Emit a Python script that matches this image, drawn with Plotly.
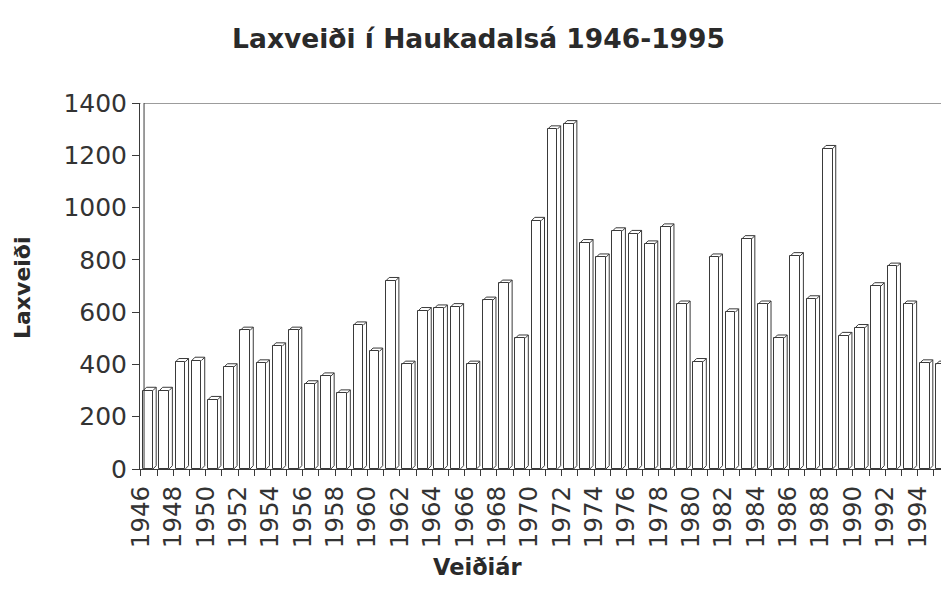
import plotly.graph_objects as go

years = list(range(1946, 1996))
catch = [300, 300, 410, 415, 265, 390, 530, 405, 470, 530,
         325, 355, 290, 550, 450, 720, 400, 605, 615, 620,
         400, 645, 710, 500, 950, 1300, 1320, 865, 810, 910,
         900, 860, 925, 630, 410, 810, 600, 880, 630, 500,
         815, 650, 1225, 510, 540, 700, 775, 630, 405, 400]
y_ticks = [0, 200, 400, 600, 800, 1000, 1200, 1400]
x_labels = [str(y) if y % 2 == 0 else "" for y in years]

title_text = "Laxveiði í Haukadalsá 1946-1995"
y_title = "Laxveiði"
x_title = "Veiðiár"

LINE = "#3a3a3a"
TXT = "#2a2a2a"
OFF = 0.14      # bar start offset from tick (years)
BW = 0.6        # front face width (years)
DX = 0.2        # 3D depth in x (years)
DY = 12.6       # 3D depth in y (value units)

fig = go.Figure()
fig.add_trace(go.Bar(
    x=years, y=catch, offset=OFF, width=BW,
    marker=dict(color="white", line=dict(color=LINE, width=1)),
    showlegend=False, hoverinfo="x+y"))

# 3D caps and side faces derived from data
cx, cy = [], []
for yr, v in zip(years, catch):
    x0 = yr + OFF
    x1 = x0 + BW
    cx += [x0, x0 + DX, x1 + DX, x1, None]
    cy += [v, v + DY, v + DY, v, None]
    cx += [x1 + DX, x1 + DX, x1, None]
    cy += [v + DY, DY, 0, None]
fig.add_trace(go.Scatter(x=cx, y=cy, mode="lines",
                         line=dict(color=LINE, width=1),
                         showlegend=False, hoverinfo="skip"))

# left wall and top frame
fig.add_shape(type="line", xref="paper", yref="y", x0=0.005, x1=0.005,
              y0=0, y1=1400, line=dict(color=LINE, width=1))
fig.add_shape(type="line", xref="paper", yref="y", x0=0.0, x1=0.005,
              y0=1400, y1=1405, line=dict(color=LINE, width=1))
fig.add_shape(type="line", xref="paper", yref="y", x0=0.005, x1=1,
              y0=1400, y1=1400, line=dict(color=LINE, width=1))

# axis titles as annotations (placed relative to the visible page)
fig.add_annotation(text=x_title, xref="paper", yref="paper",
                   x=(470 - 132) / 809, y=(461 - 559) / 366,
                   showarrow=False, xanchor="center", yanchor="middle",
                   borderpad=0,
                   font=dict(size=22.5, family="DejaVu Sans", weight="bold", color=TXT))
fig.add_annotation(text=y_title, xref="paper", yref="paper",
                   x=(14 - 132) / 809, y=(461 - 280) / 366, textangle=-90,
                   showarrow=False, xanchor="center", yanchor="middle",
                   borderpad=0,
                   font=dict(size=22, family="DejaVu Sans", weight="bold", color=TXT))

fig.update_layout(
    width=941, height=573,
    margin=dict(l=132, r=0, t=95, b=112, autoexpand=False),
    paper_bgcolor="white", plot_bgcolor="white",
    bargap=0,
    title=dict(text=title_text, x=0.5, xref="container", y=1 - 31 / 573,
               yref="container", yanchor="middle", xanchor="center",
               font=dict(family="DejaVu Sans", size=26.5, color=TXT, weight="bold")),
    font=dict(family="DejaVu Sans", color=TXT),
)
fig.update_xaxes(
    range=[1945.94, 1995.94], tickmode="array", tickvals=years, ticktext=x_labels,
    tickangle=-90, ticks="outside", ticklen=6, tickcolor=LINE,
    showline=True, linecolor=LINE, linewidth=1, showgrid=False, zeroline=False,
    tickfont=dict(size=24.5, family="DejaVu Sans", color="#333"),
)
fig.update_yaxes(
    range=[0, 1400], tickmode="array", tickvals=y_ticks,
    ticks="outside", ticklen=7, tickcolor=LINE,
    showline=True, linecolor=LINE, linewidth=1, showgrid=False, zeroline=False,
    tickfont=dict(size=25, family="DejaVu Sans", color="#333"),
)

fig.write_html("out.html")
